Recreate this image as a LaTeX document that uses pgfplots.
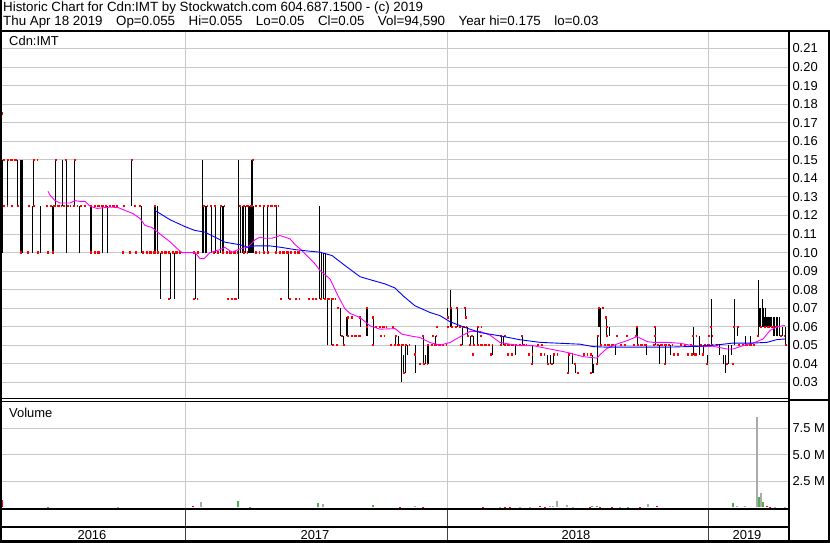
\documentclass[border=0pt]{standalone}
\usepackage{pgfplots}
\pgfplotsset{compat=1.18}
\usepackage{fontspec}
\setmainfont{Liberation Sans}
\definecolor{gridgray}{RGB}{200,200,200}
\definecolor{mared}{RGB}{255,0,0}
\definecolor{mamag}{RGB}{255,0,255}
\definecolor{mablue}{RGB}{0,0,255}
\definecolor{volgreen}{RGB}{76,176,76}
\definecolor{volgray}{RGB}{170,170,170}
\newcommand{\cf}{\fontsize{13}{15}\selectfont}
\newcommand{\tf}{\fontsize{13.4}{15}\selectfont}
\newcommand{\gap}{\hspace{13.5bp}}
\begin{document}
\begin{tikzpicture}
\useasboundingbox (0bp,0bp) rectangle (830bp,543bp);
\fill[white] (0bp,0bp) rectangle (830bp,543bp);
% ---------------- price panel (prices in cents)
\begin{axis}[
  at={(0bp,144bp)}, anchor=south west,
  width=789bp, height=368bp, scale only axis,
  xmin=0, xmax=789, ymin=2.1054, ymax=21.9459,
  enlargelimits=false,
  axis line style={draw=none},
  xtick={185,447,708}, xticklabels={},
  ytick={3,4,5,6,7,8,9,10,11,12,13,14,15,16,17,18,19,20,21},
  yticklabels={0.03,0.04,0.05,0.06,0.07,0.08,0.09,0.10,0.11,0.12,0.13,0.14,0.15,0.16,0.17,0.18,0.19,0.20,0.21},
  scaled y ticks=false,
  yticklabel pos=right,
  yticklabel style={anchor=west, font=\cf},
  major tick length=0pt,
  xmajorgrids, ymajorgrids,
  grid style={gridgray, line width=1bp},
]
% high-low bars: x, low, range (cents)
\addplot [only marks, mark=*, mark size=0pt, mark options={draw=none, fill=none}, black,
  error bars/.cd, y dir=plus, y explicit, error mark=none,
  error bar style={line width=1bp, black}] table [x=x, y=lo, y error plus=len] {
x lo len
0 10 5
1 10 5
2 10 5
7 12.5 2.5
17 12.5 2.5
20 10 5
21 10 5
22 10 5
32 10 2.5
33 12.5 2.5
40 10 2.5
52 10 2.5
53 10 2.5
55 12.5 2.5
62 12.5 2.5
66 10 5
74 12.5 2.5
79 10 2.5
90 10 2.5
91 10 2.5
102 10 2.5
107 10 2.5
131 12.5 2.5
141 10 2.5
154 10 2.5
155 10 2.5
157 10 2.5
160 7.5 2.5
170 7.5 2.5
174 7.5 2.5
195 7.5 2.5
202 10 5
203 10 2.5
205 10 2.5
206 10 2.5
211 10 2.5
215 10 2.5
220 10 2.5
222 10 2.5
223 10 2.5
238 7.5 7.5
240 10 2.5
242 10 2.5
243 10 2.5
245 10 2.5
248 10 2.5
249 10 2.5
250 10 2.5
251 10 5
252 10 5
253 10 2.5
263 10 2.5
267 10 2.5
276 10 2.5
288 7.5 2.5
319 7.5 5
321 7.5 2.5
323 7.5 2.5
325 7.5 2.5
327 5 2.5
331 5 2.5
340 5.5 1.5
343 5 0.5
346 5.5 1
347 5.5 1
360 6 0.5
366 5.5 1.5
367 5.5 1.5
373 5 1.5
395 5 0.5
398 5 0.5
401 3 2
403 3.5 1
405 3.5 1.5
407 4.5 0.5
415 3.5 1.5
423 4 1.5
425 4 0.5
427 4 1
428 4 1
435 5 0.5
447 6.5 0.5
450 6 2
451 6 1
457 6 1
462 5 1
465 6.5 0.5
467 5.5 0.5
470 5 0.5
473 5 0.5
477 5 1
492 4.5 0.5
501 5 0.5
503 5 0.5
515 4.5 0.5
522 5 0.5
532 4 1
547 4 0.5
550 4 0.5
553 4 0.5
568 3.5 1
572 4 0.5
575 3.5 0.5
592 3.5 1
593 3.5 0.5
597 4 1.5
598 6 1
599 6 1
600 5 2
606 5.5 1
609 5.5 0.5
615 4.5 0.5
636 5.5 0.5
637 5 1
646 4.5 0.5
655 5 1
659 4 1
665 4 1
670 4.5 0.5
693 4.5 1.5
699 4.5 1
703 4.5 0.5
707 4 0.5
711 5 2.5
719 4.5 0.5
723 4 0.5
725 3.5 1
728 4 1
731 4.5 0.5
734 5 2.5
737 5.5 0.5
745 5 0.5
750 5 0.5
758 5.5 3
759 6 1
760 6 1
762 6 1.5
763 6 1
764 6 0.5
765 6 1
766 6 0.5
767 6 0.5
768 6 0.5
769 6 0.5
770 6 0.5
771 6 0.5
773 5.5 1
774 5.5 1
776 5.5 1
777 5.5 1
779 5.5 1
782 5.5 0.5
785 5 1
};
% close ticks: runs of red dots: start x, price (cents), run length
\addplot [only marks, mark=*, mark size=0pt, mark options={draw=none, fill=none}, mared,
  error bars/.cd, x dir=plus, x explicit, error mark=none,
  error bar style={line width=2.3bp, mared, dash pattern=on 2.4bp off 1.3bp}] table [x=x, y=p, x error plus=w] {
x p w
1 17.5 2
3 15 14
33 15 4
55 15 2
65 15 2
74 15 2
131 15 2
252 15 2
3 12.5 4
11 12.5 2
17 12.5 3
28 12.5 2
33 12.5 2
46 12.5 15
63 12.5 8
73 12.5 4
80 12.5 7
90 12.5 29
123 12.5 2
134 12.5 2
139 12.5 2
154 12.5 3
203 12.5 4
210 12.5 2
214 12.5 2
220 12.5 4
239 12.5 14
255 12.5 7
263 12.5 15
20 10 2
27 10 2
37 10 3
47 10 2
52 10 2
90 10 10
122 10 2
129 10 2
135 10 3
142 10 40
193 10 7
213 10 7
222 10 16
243 10 5
255 10 5
263 10 7
275 10 25
168 7.5 2
193 7.5 4
227 7.5 11
280 7.5 3
289 7.5 2
295 7.5 5
308 7.5 9
320 7.5 16
337 7 2
366 7 2
450 7 3
456 7 2
464 7 2
598 7 6
347 6.5 6
359 6.5 2
372 6.5 2
447 6.5 2
465 6.5 2
605 6.5 3
366 6 2
375 6 12
392 6 2
436 6 2
447 6 6
455 6 12
477 6 5
606 6 2
636 6 2
654 6 2
710 6 3
733 6 7
760 6 20
341 5.5 2
347 5.5 14
380 5.5 5
395 5.5 3
422 5.5 2
432 5.5 5
467 5.5 6
480 5.5 3
500 5.5 7
521 5.5 2
597 5.5 3
606 5.5 2
616 5.5 2
626 5.5 2
635 5.5 3
654 5.5 2
692 5.5 5
708 5.5 5
757 5.5 2
780 5.5 5
332 5 6
343 5 3
372 5 2
390 5 20
427 5 20
460 5 2
469 5 2
473 5 20
500 5 27
537 5 6
600 5 15
620 5 7
633 5 14
653 5 20
680 5 7
690 5 3
700 5 13
716 5 2
738 5 17
785 5 2
414 4.5 2
472 4.5 3
490 4.5 3
507 4.5 6
528 4.5 5
540 4.5 5
553 4.5 5
568 4.5 4
583 4.5 4
590 4.5 3
673 4.5 7
687 4.5 10
702 4.5 2
419 4 2
423 4 5
531 4 2
547 4 6
574 4 2
596 4 2
664 4 2
706 4 2
726 4 2
732 4 2
403 3.5 2
567 3.5 2
577 3.5 2
590 3.5 3
};
% 50-day moving average (magenta), cents
\addplot [mamag, line width=0.9bp, mark=none] table {
x y
48 13.3
50 13.1
55 12.8
60 12.67
70 12.67
75 12.8
80 12.76
85 12.76
90 12.5
97 12.38
110 12.45
118 12.43
125 12.27
133 12.1
140 11.84
145 11.46
152 11.35
160 11.0
170 10.58
177 10.22
182 10.0
195 10.0
200 9.67
204 9.67
210 10.0
220 10.16
225 10.28
232 10.02
240 10.2
248 10.29
255 10.69
260 10.83
265 10.77
272 10.77
280 10.92
290 10.74
295 10.43
300 10.2
308 9.78
315 9.39
320 9.03
330 8.58
338 7.67
345 6.96
350 6.72
360 6.5
370 6.05
380 5.87
395 5.9
402 5.6
410 5.51
420 5.42
430 5.15
440 5.01
450 5.15
460 5.46
470 5.75
480 5.75
490 5.55
500 5.15
510 5.06
520 4.98
533 4.98
550 4.8
567 4.62
583 4.39
597 4.31
600 4.49
607 4.84
617 5.07
627 5.25
637 5.47
647 5.2
653 5.16
667 5.16
680 5.11
693 4.98
703 4.93
713 4.95
727 4.8
733 4.8
743 4.98
755 5.16
763 5.34
770 5.8
777 6.0
785 6.07
};
% 200-day moving average (blue), cents
\addplot [mablue, line width=0.9bp, mark=none] table {
x y
155 12.27
170 11.77
185 11.4
195 11.19
205 11.1
215 10.83
225 10.56
240 10.42
248 10.29
255 10.36
270 10.36
280 10.29
295 10.16
305 10.1
320 10.02
332 9.84
345 9.3
360 8.7
370 8.54
385 8.31
395 8.09
403 7.67
415 7.13
430 6.77
440 6.6
450 6.27
465 5.96
480 5.69
500 5.51
520 5.30
540 5.16
580 5.06
593 4.93
607 4.9
633 4.9
667 4.9
700 4.95
720 5.04
733 5.12
753 5.12
767 5.16
777 5.31
785 5.34
};
\end{axis}
% ---------------- volume panel (millions of shares)
\begin{axis}[
  at={(0bp,34bp)}, anchor=south west,
  width=789bp, height=108bp, scale only axis,
  xmin=0, xmax=789, ymin=-0.143, ymax=10.12,
  enlargelimits=false,
  axis line style={draw=none},
  xtick={185,447,708}, xticklabels={},
  ytick={2.5,5,7.5}, yticklabels={2.5 M,5.0 M,7.5 M},
  yticklabel pos=right,
  yticklabel style={anchor=west, font=\cf},
  major tick length=0pt,
  xmajorgrids, ymajorgrids,
  grid style={gridgray, line width=1bp},
]
\addplot [ycomb, mared, line width=1.5bp, mark=none] table {
x v
1 0.75
2 0.75
193 0.12
400 0.08
423 0.05
483 0.05
505 0.05
510 0.05
540 0.1
545 0.08
590 0.06
600 0.06
612 0.05
640 0.06
657 0.15
767 0.15
770 0.06
};
\addplot [ycomb, volgreen, line width=1.5bp, mark=none] table {
x v
48 0.08
238 0.6
250 0.08
318 0.45
373 0.25
592 0.1
597 0.12
628 0.05
733 0.45
759 1.0
763 0.5
};
\addplot [ycomb, volgray, line width=1.5bp, mark=none] table {
x v
118 0.06
201 0.55
323 0.3
415 0.1
500 0.05
520 0.05
530 0.06
550 0.1
553 0.15
557 0.6
567 0.2
573 0.08
620 0.08
648 0.3
737 0.15
745 0.12
757 8.6
761 1.38
775 0.05
785 0.05
};
\end{axis}
% ---------------- frame and date band
\fill[white] (2bp,2bp) rectangle (788bp,33bp);
\draw[black!75, line width=0.8bp] (185bp,2bp) -- (185bp,34bp);
\draw[black!75, line width=0.8bp] (447bp,2bp) -- (447bp,34bp);
\draw[black!75, line width=0.8bp] (708bp,2bp) -- (708bp,34bp);
\draw[line width=2bp] (0bp,512bp) -- (830bp,512bp);
\draw[line width=2bp] (1bp,0bp) -- (1bp,543bp);
\draw[line width=2bp] (829bp,0bp) -- (829bp,512bp);
\draw[line width=2bp] (789bp,1.5bp) -- (789bp,512bp);
\draw[line width=2bp] (0bp,1.5bp) -- (830bp,1.5bp);
\draw[line width=1bp] (0bp,144bp) -- (789bp,144bp);
\draw[line width=1.2bp] (0bp,141.5bp) -- (789bp,141.5bp);
\draw[line width=1.5bp] (789bp,143bp) -- (829bp,143bp);
\draw[line width=2bp] (0bp,33.5bp) -- (789bp,33.5bp);
\draw[line width=2bp] (0bp,16bp) -- (789bp,16bp);
% ---------------- texts
\node[anchor=base west, inner sep=0pt, font=\tf] at (3bp,531bp) {Historic Chart for Cdn:IMT by Stockwatch.com 604.687.1500 - (c) 2019};
\node[anchor=base west, inner sep=0pt, font=\tf] at (3bp,517bp) {Thu Apr 18 2019\gap Op=0.055\gap Hi=0.055\gap Lo=0.05\gap Cl=0.05\gap Vol=94,590\gap Year hi=0.175\gap lo=0.03};
\node[anchor=base west, inner sep=0pt, font=\cf] at (9bp,497bp) {Cdn:IMT};
\node[anchor=base west, inner sep=0pt, font=\cf] at (9bp,125bp) {Volume};
\node[anchor=base, inner sep=0pt, font=\cf] at (92bp,3.5bp) {2016};
\node[anchor=base, inner sep=0pt, font=\cf] at (315bp,3.5bp) {2017};
\node[anchor=base, inner sep=0pt, font=\cf] at (576bp,3.5bp) {2018};
\node[anchor=base, inner sep=0pt, font=\cf] at (747bp,3.5bp) {2019};
\end{tikzpicture}
\end{document}
